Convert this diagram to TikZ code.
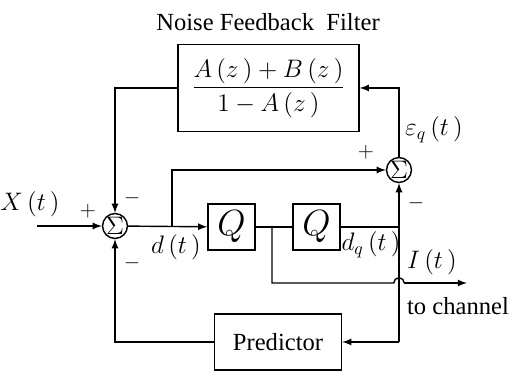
\documentclass[tikz,border=0pt]{standalone}
\usepackage{amsmath}
\usepackage{fontspec}
\setmainfont{Liberation Serif}
\usetikzlibrary{calc}

\begin{document}
\begin{tikzpicture}[
  x=0.02cm, y=-0.02cm,
  every path/.style={line width=0.8pt},
  >=latex,
  block/.style={
    draw,
    line width    = 0.8pt,
    inner sep     = 0pt,
    minimum width = 0.94cm,
    minimum height= 0.92cm,
    align         = center
  },
  summ/.style={
    draw,
    circle,
    inner sep     = 0pt,
    minimum size  = 0.46cm,
    font          = \fontsize{14}{16}\selectfont
  },
  lbl/.style={font=\fontsize{13}{15}\selectfont},
  big/.style={font=\fontsize{14}{16}\selectfont}
]
  \useasboundingbox (0,0) rectangle (512,371);

  \node[big] (title) at (268,22) {Noise Feedback\ \ Filter};
  \node[block, minimum width=3.62cm, minimum height=1.74cm,
        font=\fontsize{14.5}{17}\selectfont] (nff) at (268.5,88)
    {$\dfrac{A\,(z\,)+B\,(z\,)}{1-A\,(z\,)}$};
  \node[summ] (s1) at (115,226) {$\Sigma$};
  \node[summ, minimum size=0.42cm] (s2) at (399,170) {$\Sigma$};
  \node[block, font=\fontsize{20}{22}\selectfont] (q1) at (231.5,227) {$Q$};
  \node[block, font=\fontsize{20}{22}\selectfont] (q2) at (316.5,227) {$Q$};
  \node[block, minimum width=2.54cm, minimum height=1.12cm, big] (pred) at (278,342) {Predictor};

  \coordinate (in) at (37,226);
  \coordinate (dsplit) at (172,226);
  \coordinate (qsplit) at (272,226);
  \coordinate (hop) at (399,283);
  \coordinate (out) at (467,283);

  \draw[->] (in) -- (s1);
  \draw[->] (s1) -- (q1);
  \draw[->] (dsplit) |- (s2);
  \draw (q1) -- (q2);
  \draw (q2.east) -- (q2.east -| s2);
  \draw (qsplit) |- ($(hop)+(-3pt,0)$) arc[start angle=180, end angle=0, radius=3pt];
  \draw[->] ($(hop)+(3pt,0)$) -- (out);
  \draw[->] (pred.east -| s2) -- (s2);
  \draw[->] (s2.north) |- (nff.east);
  \draw[->] (nff.west) -| (s1);
  \draw[->] (pred.west) -| (s1);
  \draw[->] (pred.east -| s2) -- (pred.east);

  \node[big] (xl) at (30,204) {$X\,(t\,)$};
  \node[lbl] (p1) at (88,211) {$+$};
  \node[lbl] (m1) at (132,198) {$-$};
  \node[lbl] (m2) at (132,263) {$-$};
  \node[lbl] (p2) at (366,152) {$+$};
  \node[lbl] (m3) at (416,203) {$-$};
  \node[big] (eq) at (434,130) {$\varepsilon_q\,(t\,)$};
  \node[big] (dl) at (176,247) {$d\,(t\,)$};
  \node[big] (dq) at (371,245) {$d_q\,(t\,)$};
  \node[big] (il) at (432,262) {$I\,(t\,)$};
  \node[big] (ch) at (458,306) {to channel};
\end{tikzpicture}
\end{document}
